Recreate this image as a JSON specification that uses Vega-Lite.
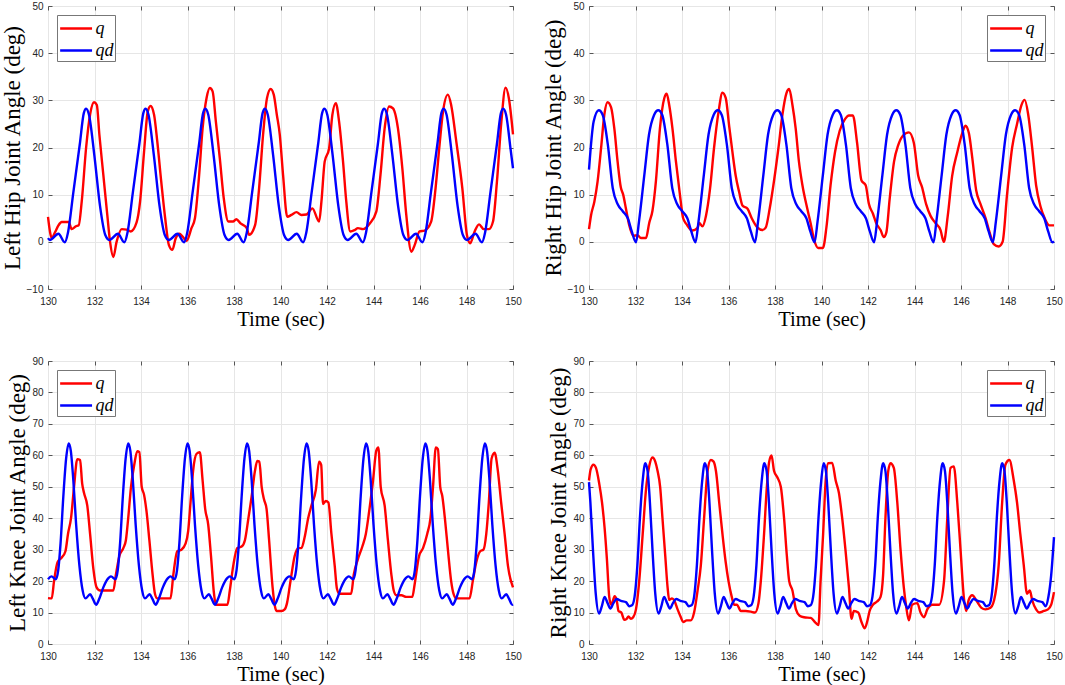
{
  "$schema": "https://vega.github.io/schema/vega-lite/v6.json",
  "padding": {"left": 0, "right": 9, "top": 0, "bottom": 0},
  "background": "white",
  "config": {
    "font": "Liberation Sans",
    "view": {"stroke": "#666666", "strokeWidth": 1},
    "line": {"strokeWidth": 2.4, "interpolate": "monotone"},
    "axis": {
      "grid": true, "gridColor": "#e6e6e6", "gridWidth": 1, "labelFlush": false,
      "domain": false, "tickColor": "#555555", "tickSize": -4,
      "labelFont": "Liberation Sans", "labelFontSize": 10, "labelColor": "#262626",
      "titleFont": "Liberation Serif", "titleFontWeight": "normal", "titleColor": "#000000"
    },
    "axisX": {"labelPadding": 11, "titlePadding": 3, "titleFontSize": 20.5},
    "axisY": {"labelPadding": 9, "titlePadding": 2, "titleFontSize": 23},
    "legend": {
      "title": null, "symbolType": "M-1.45,0H1.45", "symbolSize": 484, "symbolStrokeWidth": 2.5,
      "symbolOffset": 5.6, "labelOffset": 7,
      "labelFont": "Liberation Serif", "labelFontStyle": "italic", "labelFontSize": 18,
      "strokeColor": "#777777", "fillColor": "white", "padding": 1, "rowPadding": 0,
      "offset": 9
    }
  },
  "bounds": "flush",
  "columns": 2,
  "spacing": {"row": 72, "column": 76},
  "resolve": {"scale": {"color": "independent"}},
  "datasets": {
    "lh": [
      {"s":"q","t":130,"v":5.3},{"s":"q","t":130.09,"v":2},{"s":"q","t":130.16,"v":0.8},{"s":"q","t":130.3,"v":2},{"s":"q","t":130.45,"v":3.5},{"s":"q","t":130.59,"v":4.2},{"s":"q","t":130.89,"v":4.2},{"s":"q","t":131.02,"v":2.7},{"s":"q","t":131.2,"v":3.3},{"s":"q","t":131.32,"v":3.5},{"s":"q","t":131.45,"v":8.5},{"s":"q","t":131.64,"v":20},{"s":"q","t":131.81,"v":27},{"s":"q","t":131.98,"v":29.6},{"s":"q","t":132.1,"v":29},{"s":"q","t":132.21,"v":22.7},{"s":"q","t":132.38,"v":14.2},{"s":"q","t":132.55,"v":5.7},{"s":"q","t":132.67,"v":0},{"s":"q","t":132.81,"v":-3.2},{"s":"q","t":132.95,"v":0},{"s":"q","t":133.17,"v":2.7},{"s":"q","t":133.38,"v":2.6},{"s":"q","t":133.56,"v":2.2},{"s":"q","t":133.81,"v":4.1},{"s":"q","t":133.96,"v":8.5},{"s":"q","t":134.13,"v":19},{"s":"q","t":134.29,"v":27.6},{"s":"q","t":134.41,"v":28.8},{"s":"q","t":134.56,"v":27},{"s":"q","t":134.7,"v":21.3},{"s":"q","t":134.87,"v":12.8},{"s":"q","t":135.04,"v":5},{"s":"q","t":135.2,"v":-0.7},{"s":"q","t":135.35,"v":-1.7},{"s":"q","t":135.49,"v":0.7},{"s":"q","t":135.65,"v":1.7},{"s":"q","t":135.79,"v":1.1},{"s":"q","t":135.96,"v":0.2},{"s":"q","t":136.17,"v":2.9},{"s":"q","t":136.32,"v":5},{"s":"q","t":136.49,"v":13.5},{"s":"q","t":136.65,"v":24.1},{"s":"q","t":136.82,"v":30.5},{"s":"q","t":136.96,"v":32.6},{"s":"q","t":137.08,"v":31.9},{"s":"q","t":137.22,"v":25.5},{"s":"q","t":137.39,"v":17.7},{"s":"q","t":137.56,"v":9.2},{"s":"q","t":137.76,"v":4.3},{"s":"q","t":137.96,"v":4.3},{"s":"q","t":138.1,"v":4.8},{"s":"q","t":138.28,"v":3.9},{"s":"q","t":138.54,"v":3},{"s":"q","t":138.65,"v":1.5},{"s":"q","t":138.91,"v":3.6},{"s":"q","t":139.08,"v":11.4},{"s":"q","t":139.25,"v":22.7},{"s":"q","t":139.42,"v":30.5},{"s":"q","t":139.58,"v":32.4},{"s":"q","t":139.71,"v":31.2},{"s":"q","t":139.84,"v":27},{"s":"q","t":139.97,"v":22.7},{"s":"q","t":140.11,"v":14.2},{"s":"q","t":140.29,"v":5.3},{"s":"q","t":140.47,"v":5.7},{"s":"q","t":140.69,"v":6.3},{"s":"q","t":140.9,"v":5.7},{"s":"q","t":141.12,"v":5.8},{"s":"q","t":141.37,"v":7.1},{"s":"q","t":141.66,"v":4.3},{"s":"q","t":141.76,"v":8.5},{"s":"q","t":141.9,"v":17},{"s":"q","t":142.09,"v":19.8},{"s":"q","t":142.23,"v":26.9},{"s":"q","t":142.38,"v":29.4},{"s":"q","t":142.52,"v":25.5},{"s":"q","t":142.69,"v":17},{"s":"q","t":142.83,"v":8.5},{"s":"q","t":143,"v":2.2},{"s":"q","t":143.19,"v":2.5},{"s":"q","t":143.33,"v":2.9},{"s":"q","t":143.55,"v":2.7},{"s":"q","t":143.84,"v":3.9},{"s":"q","t":144.12,"v":6.4},{"s":"q","t":144.3,"v":14.2},{"s":"q","t":144.48,"v":24.1},{"s":"q","t":144.67,"v":28.7},{"s":"q","t":144.84,"v":28.3},{"s":"q","t":145.05,"v":24.1},{"s":"q","t":145.24,"v":15.6},{"s":"q","t":145.41,"v":5.7},{"s":"q","t":145.63,"v":-2.1},{"s":"q","t":145.77,"v":-0.7},{"s":"q","t":145.98,"v":2.2},{"s":"q","t":146.2,"v":2.4},{"s":"q","t":146.48,"v":4.3},{"s":"q","t":146.67,"v":11.4},{"s":"q","t":146.84,"v":20.5},{"s":"q","t":146.99,"v":27.6},{"s":"q","t":147.2,"v":31.2},{"s":"q","t":147.34,"v":29},{"s":"q","t":147.56,"v":21.3},{"s":"q","t":147.82,"v":11.4},{"s":"q","t":148.02,"v":1.4},{"s":"q","t":148.16,"v":-0.3},{"s":"q","t":148.35,"v":2.2},{"s":"q","t":148.54,"v":3.7},{"s":"q","t":148.74,"v":2.7},{"s":"q","t":148.97,"v":2.7},{"s":"q","t":149.14,"v":4.3},{"s":"q","t":149.31,"v":12.8},{"s":"q","t":149.5,"v":25.5},{"s":"q","t":149.68,"v":32.7},{"s":"q","t":149.82,"v":30.5},{"s":"q","t":150,"v":22.8},
      {"s":"qd","t":130,"v":0.8},{"s":"qd","t":130.08,"v":0.4},{"s":"qd","t":130.45,"v":1.7},{"s":"qd","t":130.72,"v":-0.1},{"s":"qd","t":130.86,"v":2},{"s":"qd","t":131.09,"v":10.5},{"s":"qd","t":131.37,"v":20.8},{"s":"qd","t":131.54,"v":27.3},{"s":"qd","t":131.64,"v":28.2},{"s":"qd","t":131.76,"v":27},{"s":"qd","t":131.99,"v":18.5},{"s":"qd","t":132.24,"v":7.5},{"s":"qd","t":132.46,"v":1.5},{"s":"qd","t":132.64,"v":0.4},{"s":"qd","t":133.01,"v":1.7},
      {"s":"qd","t":133.28,"v":-0.1},{"s":"qd","t":133.42,"v":2},{"s":"qd","t":133.65,"v":10.5},{"s":"qd","t":133.93,"v":20.8},{"s":"qd","t":134.1,"v":27.3},{"s":"qd","t":134.2,"v":28.2},{"s":"qd","t":134.32,"v":27},{"s":"qd","t":134.55,"v":18.5},{"s":"qd","t":134.8,"v":7.5},{"s":"qd","t":135.02,"v":1.5},{"s":"qd","t":135.2,"v":0.4},{"s":"qd","t":135.57,"v":1.7},
      {"s":"qd","t":135.85,"v":-0.1},{"s":"qd","t":135.99,"v":2},{"s":"qd","t":136.22,"v":10.5},{"s":"qd","t":136.5,"v":20.8},{"s":"qd","t":136.67,"v":27.3},{"s":"qd","t":136.77,"v":28.2},{"s":"qd","t":136.89,"v":27},{"s":"qd","t":137.12,"v":18.5},{"s":"qd","t":137.37,"v":7.5},{"s":"qd","t":137.59,"v":1.5},{"s":"qd","t":137.77,"v":0.4},{"s":"qd","t":138.14,"v":1.7},
      {"s":"qd","t":138.41,"v":-0.1},{"s":"qd","t":138.55,"v":2},{"s":"qd","t":138.78,"v":10.5},{"s":"qd","t":139.06,"v":20.8},{"s":"qd","t":139.23,"v":27.3},{"s":"qd","t":139.33,"v":28.2},{"s":"qd","t":139.45,"v":27},{"s":"qd","t":139.68,"v":18.5},{"s":"qd","t":139.93,"v":7.5},{"s":"qd","t":140.15,"v":1.5},{"s":"qd","t":140.33,"v":0.4},{"s":"qd","t":140.7,"v":1.7},
      {"s":"qd","t":140.97,"v":-0.1},{"s":"qd","t":141.11,"v":2},{"s":"qd","t":141.34,"v":10.5},{"s":"qd","t":141.62,"v":20.8},{"s":"qd","t":141.79,"v":27.3},{"s":"qd","t":141.89,"v":28.2},{"s":"qd","t":142.01,"v":27},{"s":"qd","t":142.24,"v":18.5},{"s":"qd","t":142.49,"v":7.5},{"s":"qd","t":142.71,"v":1.5},{"s":"qd","t":142.89,"v":0.4},{"s":"qd","t":143.26,"v":1.7},
      {"s":"qd","t":143.54,"v":-0.1},{"s":"qd","t":143.68,"v":2},{"s":"qd","t":143.91,"v":10.5},{"s":"qd","t":144.19,"v":20.8},{"s":"qd","t":144.36,"v":27.3},{"s":"qd","t":144.46,"v":28.2},{"s":"qd","t":144.58,"v":27},{"s":"qd","t":144.81,"v":18.5},{"s":"qd","t":145.06,"v":7.5},{"s":"qd","t":145.28,"v":1.5},{"s":"qd","t":145.46,"v":0.4},{"s":"qd","t":145.83,"v":1.7},
      {"s":"qd","t":146.1,"v":-0.1},{"s":"qd","t":146.24,"v":2},{"s":"qd","t":146.47,"v":10.5},{"s":"qd","t":146.75,"v":20.8},{"s":"qd","t":146.92,"v":27.3},{"s":"qd","t":147.02,"v":28.2},{"s":"qd","t":147.14,"v":27},{"s":"qd","t":147.37,"v":18.5},{"s":"qd","t":147.62,"v":7.5},{"s":"qd","t":147.84,"v":1.5},{"s":"qd","t":148.02,"v":0.4},{"s":"qd","t":148.39,"v":1.7},
      {"s":"qd","t":148.66,"v":-0.1},{"s":"qd","t":148.8,"v":2},{"s":"qd","t":149.03,"v":10.5},{"s":"qd","t":149.31,"v":20.8},{"s":"qd","t":149.48,"v":27.3},{"s":"qd","t":149.58,"v":28.2},{"s":"qd","t":149.7,"v":27},{"s":"qd","t":149.9,"v":19.5},{"s":"qd","t":150,"v":15.6}
    ],
    "rh": [
      {"s":"q","t":130,"v":2.7},{"s":"q","t":130.09,"v":5.7},{"s":"q","t":130.23,"v":8.5},{"s":"q","t":130.37,"v":12.8},{"s":"q","t":130.52,"v":19.9},{"s":"q","t":130.66,"v":27},{"s":"q","t":130.8,"v":29.6},{"s":"q","t":130.95,"v":28.5},{"s":"q","t":131.09,"v":24},{"s":"q","t":131.23,"v":17},{"s":"q","t":131.37,"v":11.5},{"s":"q","t":131.47,"v":10},{"s":"q","t":131.59,"v":7},{"s":"q","t":131.73,"v":3.5},{"s":"q","t":131.9,"v":1.3},{"s":"q","t":132.09,"v":1.4},{"s":"q","t":132.23,"v":0.8},{"s":"q","t":132.45,"v":0.8},{"s":"q","t":132.59,"v":4},{"s":"q","t":132.73,"v":6.6},{"s":"q","t":132.88,"v":13},{"s":"q","t":133.05,"v":24},{"s":"q","t":133.24,"v":30.5},{"s":"q","t":133.34,"v":31.4},{"s":"q","t":133.45,"v":29},{"s":"q","t":133.59,"v":24},{"s":"q","t":133.74,"v":17},{"s":"q","t":133.91,"v":10},{"s":"q","t":134.05,"v":5},{"s":"q","t":134.2,"v":3.7},{"s":"q","t":134.45,"v":2.4},{"s":"q","t":134.67,"v":3},{"s":"q","t":134.74,"v":4},{"s":"q","t":134.88,"v":3.3},{"s":"q","t":135.03,"v":5.5},{"s":"q","t":135.2,"v":11},{"s":"q","t":135.38,"v":20},{"s":"q","t":135.57,"v":27.5},{"s":"q","t":135.74,"v":31.6},{"s":"q","t":135.88,"v":30.5},{"s":"q","t":136.03,"v":24.5},{"s":"q","t":136.17,"v":19},{"s":"q","t":136.31,"v":14},{"s":"q","t":136.46,"v":10.5},{"s":"q","t":136.6,"v":7.7},{"s":"q","t":136.82,"v":7},{"s":"q","t":137,"v":5},{"s":"q","t":137.25,"v":3},{"s":"q","t":137.46,"v":2.5},{"s":"q","t":137.6,"v":3},{"s":"q","t":137.77,"v":7},{"s":"q","t":137.96,"v":13},{"s":"q","t":138.15,"v":20},{"s":"q","t":138.32,"v":27},{"s":"q","t":138.49,"v":31.5},{"s":"q","t":138.61,"v":32.4},{"s":"q","t":138.75,"v":29},{"s":"q","t":138.89,"v":24},{"s":"q","t":139.03,"v":17},{"s":"q","t":139.18,"v":12},{"s":"q","t":139.39,"v":7},{"s":"q","t":139.53,"v":4},{"s":"q","t":139.68,"v":0.5},{"s":"q","t":139.86,"v":-1.3},{"s":"q","t":140.06,"v":-1.3},{"s":"q","t":140.21,"v":3},{"s":"q","t":140.39,"v":12},{"s":"q","t":140.58,"v":19},{"s":"q","t":140.78,"v":23.5},{"s":"q","t":141.01,"v":26},{"s":"q","t":141.18,"v":26.8},{"s":"q","t":141.35,"v":26.8},{"s":"q","t":141.53,"v":21},{"s":"q","t":141.72,"v":13},{"s":"q","t":141.9,"v":12},{"s":"q","t":142.04,"v":8},{"s":"q","t":142.21,"v":6},{"s":"q","t":142.35,"v":4},{"s":"q","t":142.54,"v":2.5},{"s":"q","t":142.68,"v":1},{"s":"q","t":142.79,"v":2},{"s":"q","t":142.93,"v":9},{"s":"q","t":143.12,"v":17},{"s":"q","t":143.3,"v":20.5},{"s":"q","t":143.5,"v":22.5},{"s":"q","t":143.76,"v":23.2},{"s":"q","t":143.97,"v":21},{"s":"q","t":144.16,"v":14},{"s":"q","t":144.33,"v":11.5},{"s":"q","t":144.5,"v":8},{"s":"q","t":144.69,"v":5.5},{"s":"q","t":144.9,"v":4},{"s":"q","t":145.12,"v":2.5},{"s":"q","t":145.26,"v":0},{"s":"q","t":145.43,"v":5.5},{"s":"q","t":145.62,"v":14},{"s":"q","t":145.84,"v":19},{"s":"q","t":146.05,"v":23},{"s":"q","t":146.19,"v":24.6},{"s":"q","t":146.34,"v":23},{"s":"q","t":146.48,"v":18},{"s":"q","t":146.65,"v":11},{"s":"q","t":146.84,"v":8},{"s":"q","t":147.06,"v":5},{"s":"q","t":147.23,"v":2},{"s":"q","t":147.41,"v":-0.5},{"s":"q","t":147.62,"v":-1},{"s":"q","t":147.79,"v":0},{"s":"q","t":147.98,"v":10},{"s":"q","t":148.2,"v":20},{"s":"q","t":148.41,"v":25},{"s":"q","t":148.6,"v":29},{"s":"q","t":148.74,"v":30.1},{"s":"q","t":148.89,"v":27},{"s":"q","t":149.06,"v":20},{"s":"q","t":149.23,"v":12},{"s":"q","t":149.42,"v":7.5},{"s":"q","t":149.6,"v":5},{"s":"q","t":149.8,"v":3.5},{"s":"q","t":150,"v":3.5},
      {"s":"qd","t":130,"v":15.3},{"s":"qd","t":130.2,"v":25.5},{"s":"qd","t":130.42,"v":27.9},{"s":"qd","t":130.59,"v":26.9},{"s":"qd","t":130.81,"v":20.6},{"s":"qd","t":131.02,"v":11.4},{"s":"qd","t":131.24,"v":7.9},{"s":"qd","t":131.45,"v":6.5},{"s":"qd","t":131.67,"v":5},{"s":"qd","t":131.84,"v":2.2},{"s":"qd","t":132.02,"v":-0.1},
      {"s":"qd","t":132.15,"v":4.3},{"s":"qd","t":132.38,"v":14.2},{"s":"qd","t":132.58,"v":22.7},{"s":"qd","t":132.8,"v":26.9},{"s":"qd","t":132.98,"v":27.9},{"s":"qd","t":133.15,"v":26.9},{"s":"qd","t":133.37,"v":20.6},{"s":"qd","t":133.58,"v":11.4},{"s":"qd","t":133.8,"v":7.9},{"s":"qd","t":134.01,"v":6.5},{"s":"qd","t":134.23,"v":5},{"s":"qd","t":134.4,"v":2.2},{"s":"qd","t":134.58,"v":-0.1},
      {"s":"qd","t":134.71,"v":4.3},{"s":"qd","t":134.94,"v":14.2},{"s":"qd","t":135.14,"v":22.7},{"s":"qd","t":135.36,"v":26.9},{"s":"qd","t":135.54,"v":27.9},{"s":"qd","t":135.71,"v":26.9},{"s":"qd","t":135.93,"v":20.6},{"s":"qd","t":136.14,"v":11.4},{"s":"qd","t":136.36,"v":7.9},{"s":"qd","t":136.57,"v":6.5},{"s":"qd","t":136.79,"v":5},{"s":"qd","t":136.96,"v":2.2},{"s":"qd","t":137.14,"v":-0.1},
      {"s":"qd","t":137.27,"v":4.3},{"s":"qd","t":137.5,"v":14.2},{"s":"qd","t":137.7,"v":22.7},{"s":"qd","t":137.92,"v":26.9},{"s":"qd","t":138.1,"v":27.9},{"s":"qd","t":138.27,"v":26.9},{"s":"qd","t":138.49,"v":20.6},{"s":"qd","t":138.7,"v":11.4},{"s":"qd","t":138.92,"v":7.9},{"s":"qd","t":139.13,"v":6.5},{"s":"qd","t":139.35,"v":5},{"s":"qd","t":139.52,"v":2.2},{"s":"qd","t":139.7,"v":-0.1},
      {"s":"qd","t":139.83,"v":4.3},{"s":"qd","t":140.06,"v":14.2},{"s":"qd","t":140.26,"v":22.7},{"s":"qd","t":140.48,"v":26.9},{"s":"qd","t":140.66,"v":27.9},{"s":"qd","t":140.83,"v":26.9},{"s":"qd","t":141.05,"v":20.6},{"s":"qd","t":141.26,"v":11.4},{"s":"qd","t":141.48,"v":7.9},{"s":"qd","t":141.69,"v":6.5},{"s":"qd","t":141.91,"v":5},{"s":"qd","t":142.08,"v":2.2},{"s":"qd","t":142.26,"v":-0.1},
      {"s":"qd","t":142.39,"v":4.3},{"s":"qd","t":142.62,"v":14.2},{"s":"qd","t":142.82,"v":22.7},{"s":"qd","t":143.04,"v":26.9},{"s":"qd","t":143.22,"v":27.9},{"s":"qd","t":143.39,"v":26.9},{"s":"qd","t":143.61,"v":20.6},{"s":"qd","t":143.82,"v":11.4},{"s":"qd","t":144.04,"v":7.9},{"s":"qd","t":144.25,"v":6.5},{"s":"qd","t":144.47,"v":5},{"s":"qd","t":144.64,"v":2.2},{"s":"qd","t":144.82,"v":-0.1},
      {"s":"qd","t":144.94,"v":4.3},{"s":"qd","t":145.17,"v":14.2},{"s":"qd","t":145.37,"v":22.7},{"s":"qd","t":145.59,"v":26.9},{"s":"qd","t":145.77,"v":27.9},{"s":"qd","t":145.94,"v":26.9},{"s":"qd","t":146.16,"v":20.6},{"s":"qd","t":146.37,"v":11.4},{"s":"qd","t":146.59,"v":7.9},{"s":"qd","t":146.8,"v":6.5},{"s":"qd","t":147.02,"v":5},{"s":"qd","t":147.19,"v":2.2},{"s":"qd","t":147.37,"v":-0.1},
      {"s":"qd","t":147.5,"v":4.3},{"s":"qd","t":147.73,"v":14.2},{"s":"qd","t":147.93,"v":22.7},{"s":"qd","t":148.15,"v":26.9},{"s":"qd","t":148.33,"v":27.9},{"s":"qd","t":148.5,"v":26.9},{"s":"qd","t":148.72,"v":20.6},{"s":"qd","t":148.93,"v":11.4},{"s":"qd","t":149.15,"v":7.9},{"s":"qd","t":149.36,"v":6.5},{"s":"qd","t":149.58,"v":5},{"s":"qd","t":149.75,"v":2.2},{"s":"qd","t":149.93,"v":-0.1},{"s":"qd","t":150,"v":0.1}
    ],
    "lk": [
      {"s":"q","t":130,"v":14.6},{"s":"q","t":130.16,"v":14.5},{"s":"q","t":130.26,"v":20},{"s":"q","t":130.41,"v":26},{"s":"q","t":130.59,"v":27.5},{"s":"q","t":130.75,"v":29.5},{"s":"q","t":130.86,"v":35},{"s":"q","t":130.99,"v":40},{"s":"q","t":131.12,"v":50},{"s":"q","t":131.26,"v":58.8},{"s":"q","t":131.38,"v":58.5},{"s":"q","t":131.47,"v":51},{"s":"q","t":131.55,"v":48},{"s":"q","t":131.69,"v":44},{"s":"q","t":131.81,"v":35},{"s":"q","t":131.95,"v":24},{"s":"q","t":132.09,"v":18},{"s":"q","t":132.24,"v":17},{"s":"q","t":132.81,"v":17},{"s":"q","t":132.92,"v":22},{"s":"q","t":133.07,"v":28},{"s":"q","t":133.24,"v":30.5},{"s":"q","t":133.35,"v":33},{"s":"q","t":133.45,"v":40},{"s":"q","t":133.57,"v":50},{"s":"q","t":133.71,"v":57},{"s":"q","t":133.84,"v":61.3},{"s":"q","t":133.93,"v":61},{"s":"q","t":134.03,"v":50},{"s":"q","t":134.13,"v":47.5},{"s":"q","t":134.24,"v":42},{"s":"q","t":134.36,"v":33},{"s":"q","t":134.5,"v":22},{"s":"q","t":134.6,"v":16},{"s":"q","t":134.7,"v":14.5},{"s":"q","t":135.27,"v":14.5},{"s":"q","t":135.39,"v":22},{"s":"q","t":135.56,"v":29.5},{"s":"q","t":135.74,"v":30},{"s":"q","t":135.92,"v":32},{"s":"q","t":136.03,"v":36},{"s":"q","t":136.13,"v":45},{"s":"q","t":136.24,"v":55},{"s":"q","t":136.39,"v":60.5},{"s":"q","t":136.53,"v":61},{"s":"q","t":136.65,"v":52},{"s":"q","t":136.76,"v":43},{"s":"q","t":136.89,"v":38},{"s":"q","t":137.01,"v":28},{"s":"q","t":137.14,"v":16},{"s":"q","t":137.22,"v":12.5},{"s":"q","t":137.72,"v":12.5},{"s":"q","t":137.82,"v":17},{"s":"q","t":137.97,"v":25},{"s":"q","t":138.14,"v":30.5},{"s":"q","t":138.33,"v":31},{"s":"q","t":138.47,"v":33},{"s":"q","t":138.62,"v":40},{"s":"q","t":138.76,"v":47},{"s":"q","t":138.9,"v":55},{"s":"q","t":139,"v":58.2},{"s":"q","t":139.09,"v":58},{"s":"q","t":139.19,"v":50},{"s":"q","t":139.29,"v":46},{"s":"q","t":139.4,"v":43},{"s":"q","t":139.51,"v":33},{"s":"q","t":139.66,"v":18},{"s":"q","t":139.76,"v":12},{"s":"q","t":139.83,"v":10.5},{"s":"q","t":140.04,"v":10.5},{"s":"q","t":140.18,"v":11},{"s":"q","t":140.28,"v":13},{"s":"q","t":140.43,"v":20},{"s":"q","t":140.61,"v":28},{"s":"q","t":140.76,"v":30.5},{"s":"q","t":140.9,"v":30.5},{"s":"q","t":141.04,"v":34},{"s":"q","t":141.19,"v":40},{"s":"q","t":141.33,"v":44},{"s":"q","t":141.52,"v":49},{"s":"q","t":141.66,"v":58},{"s":"q","t":141.75,"v":57},{"s":"q","t":141.83,"v":44.5},{"s":"q","t":141.95,"v":45.5},{"s":"q","t":142.06,"v":45},{"s":"q","t":142.19,"v":35},{"s":"q","t":142.33,"v":25},{"s":"q","t":142.43,"v":17.5},{"s":"q","t":142.54,"v":16},{"s":"q","t":143.04,"v":16},{"s":"q","t":143.15,"v":22},{"s":"q","t":143.33,"v":27},{"s":"q","t":143.52,"v":31},{"s":"q","t":143.67,"v":35},{"s":"q","t":143.81,"v":42},{"s":"q","t":143.98,"v":52},{"s":"q","t":144.12,"v":61.5},{"s":"q","t":144.21,"v":62.5},{"s":"q","t":144.31,"v":50},{"s":"q","t":144.48,"v":44},{"s":"q","t":144.62,"v":33},{"s":"q","t":144.77,"v":22},{"s":"q","t":144.87,"v":17},{"s":"q","t":144.98,"v":15.5},{"s":"q","t":145.2,"v":15.5},{"s":"q","t":145.41,"v":15},{"s":"q","t":145.67,"v":15},{"s":"q","t":145.77,"v":19},{"s":"q","t":145.96,"v":28},{"s":"q","t":146.13,"v":30.5},{"s":"q","t":146.31,"v":35},{"s":"q","t":146.45,"v":40},{"s":"q","t":146.56,"v":50},{"s":"q","t":146.68,"v":62.5},{"s":"q","t":146.77,"v":62},{"s":"q","t":146.87,"v":50},{"s":"q","t":146.96,"v":47},{"s":"q","t":147.07,"v":40},{"s":"q","t":147.2,"v":30},{"s":"q","t":147.34,"v":20},{"s":"q","t":147.44,"v":16},{"s":"q","t":147.56,"v":14.5},{"s":"q","t":148.13,"v":14.5},{"s":"q","t":148.27,"v":20},{"s":"q","t":148.42,"v":26},{"s":"q","t":148.59,"v":29.5},{"s":"q","t":148.73,"v":30},{"s":"q","t":148.85,"v":35},{"s":"q","t":148.96,"v":45},{"s":"q","t":149.08,"v":59},{"s":"q","t":149.21,"v":60.8},{"s":"q","t":149.35,"v":55},{"s":"q","t":149.49,"v":45},{"s":"q","t":149.64,"v":35},{"s":"q","t":149.78,"v":25},{"s":"q","t":150,"v":18},
      {"s":"qd","t":130,"v":20.6},{"s":"qd","t":130.15,"v":21.5},
      {"s":"qd","t":130.34,"v":20.6},{"s":"qd","t":130.44,"v":23.5},{"s":"qd","t":130.54,"v":32},{"s":"qd","t":130.66,"v":47},{"s":"qd","t":130.78,"v":59},{"s":"qd","t":130.89,"v":63.8},{"s":"qd","t":130.98,"v":61.5},{"s":"qd","t":131.09,"v":52},{"s":"qd","t":131.21,"v":38},{"s":"qd","t":131.35,"v":25},{"s":"qd","t":131.49,"v":17},{"s":"qd","t":131.61,"v":14.5},{"s":"qd","t":131.81,"v":15.8},{"s":"qd","t":131.92,"v":14.5},{"s":"qd","t":132.07,"v":12.5},{"s":"qd","t":132.21,"v":14.5},{"s":"qd","t":132.38,"v":18},{"s":"qd","t":132.55,"v":20.5},{"s":"qd","t":132.71,"v":21.5},
      {"s":"qd","t":132.9,"v":20.6},{"s":"qd","t":133,"v":23.5},{"s":"qd","t":133.1,"v":32},{"s":"qd","t":133.22,"v":47},{"s":"qd","t":133.34,"v":59},{"s":"qd","t":133.45,"v":63.8},{"s":"qd","t":133.54,"v":61.5},{"s":"qd","t":133.65,"v":52},{"s":"qd","t":133.77,"v":38},{"s":"qd","t":133.91,"v":25},{"s":"qd","t":134.05,"v":17},{"s":"qd","t":134.17,"v":14.5},{"s":"qd","t":134.37,"v":15.8},{"s":"qd","t":134.48,"v":14.5},{"s":"qd","t":134.63,"v":12.5},{"s":"qd","t":134.77,"v":14.5},{"s":"qd","t":134.94,"v":18},{"s":"qd","t":135.11,"v":20.5},{"s":"qd","t":135.27,"v":21.5},
      {"s":"qd","t":135.45,"v":20.6},{"s":"qd","t":135.55,"v":23.5},{"s":"qd","t":135.65,"v":32},{"s":"qd","t":135.77,"v":47},{"s":"qd","t":135.89,"v":59},{"s":"qd","t":136,"v":63.8},{"s":"qd","t":136.09,"v":61.5},{"s":"qd","t":136.2,"v":52},{"s":"qd","t":136.32,"v":38},{"s":"qd","t":136.46,"v":25},{"s":"qd","t":136.6,"v":17},{"s":"qd","t":136.72,"v":14.5},{"s":"qd","t":136.92,"v":15.8},{"s":"qd","t":137.03,"v":14.5},{"s":"qd","t":137.18,"v":12.5},{"s":"qd","t":137.32,"v":14.5},{"s":"qd","t":137.49,"v":18},{"s":"qd","t":137.66,"v":20.5},{"s":"qd","t":137.82,"v":21.5},
      {"s":"qd","t":138.01,"v":20.6},{"s":"qd","t":138.11,"v":23.5},{"s":"qd","t":138.21,"v":32},{"s":"qd","t":138.33,"v":47},{"s":"qd","t":138.45,"v":59},{"s":"qd","t":138.56,"v":63.8},{"s":"qd","t":138.65,"v":61.5},{"s":"qd","t":138.76,"v":52},{"s":"qd","t":138.88,"v":38},{"s":"qd","t":139.02,"v":25},{"s":"qd","t":139.16,"v":17},{"s":"qd","t":139.28,"v":14.5},{"s":"qd","t":139.48,"v":15.8},{"s":"qd","t":139.59,"v":14.5},{"s":"qd","t":139.74,"v":12.5},{"s":"qd","t":139.88,"v":14.5},{"s":"qd","t":140.05,"v":18},{"s":"qd","t":140.22,"v":20.5},{"s":"qd","t":140.38,"v":21.5},
      {"s":"qd","t":140.57,"v":20.6},{"s":"qd","t":140.67,"v":23.5},{"s":"qd","t":140.77,"v":32},{"s":"qd","t":140.89,"v":47},{"s":"qd","t":141.01,"v":59},{"s":"qd","t":141.12,"v":63.8},{"s":"qd","t":141.21,"v":61.5},{"s":"qd","t":141.32,"v":52},{"s":"qd","t":141.44,"v":38},{"s":"qd","t":141.58,"v":25},{"s":"qd","t":141.72,"v":17},{"s":"qd","t":141.84,"v":14.5},{"s":"qd","t":142.04,"v":15.8},{"s":"qd","t":142.15,"v":14.5},{"s":"qd","t":142.3,"v":12.5},{"s":"qd","t":142.44,"v":14.5},{"s":"qd","t":142.61,"v":18},{"s":"qd","t":142.78,"v":20.5},{"s":"qd","t":142.94,"v":21.5},
      {"s":"qd","t":143.13,"v":20.6},{"s":"qd","t":143.23,"v":23.5},{"s":"qd","t":143.33,"v":32},{"s":"qd","t":143.45,"v":47},{"s":"qd","t":143.57,"v":59},{"s":"qd","t":143.68,"v":63.8},{"s":"qd","t":143.77,"v":61.5},{"s":"qd","t":143.88,"v":52},{"s":"qd","t":144,"v":38},{"s":"qd","t":144.14,"v":25},{"s":"qd","t":144.28,"v":17},{"s":"qd","t":144.4,"v":14.5},{"s":"qd","t":144.6,"v":15.8},{"s":"qd","t":144.71,"v":14.5},{"s":"qd","t":144.86,"v":12.5},{"s":"qd","t":145,"v":14.5},{"s":"qd","t":145.17,"v":18},{"s":"qd","t":145.34,"v":20.5},{"s":"qd","t":145.5,"v":21.5},
      {"s":"qd","t":145.68,"v":20.6},{"s":"qd","t":145.78,"v":23.5},{"s":"qd","t":145.88,"v":32},{"s":"qd","t":146,"v":47},{"s":"qd","t":146.12,"v":59},{"s":"qd","t":146.23,"v":63.8},{"s":"qd","t":146.32,"v":61.5},{"s":"qd","t":146.43,"v":52},{"s":"qd","t":146.55,"v":38},{"s":"qd","t":146.69,"v":25},{"s":"qd","t":146.83,"v":17},{"s":"qd","t":146.95,"v":14.5},{"s":"qd","t":147.15,"v":15.8},{"s":"qd","t":147.26,"v":14.5},{"s":"qd","t":147.41,"v":12.5},{"s":"qd","t":147.55,"v":14.5},{"s":"qd","t":147.72,"v":18},{"s":"qd","t":147.89,"v":20.5},{"s":"qd","t":148.05,"v":21.5},
      {"s":"qd","t":148.24,"v":20.6},{"s":"qd","t":148.34,"v":23.5},{"s":"qd","t":148.44,"v":32},{"s":"qd","t":148.56,"v":47},{"s":"qd","t":148.68,"v":59},{"s":"qd","t":148.79,"v":63.8},{"s":"qd","t":148.88,"v":61.5},{"s":"qd","t":148.99,"v":52},{"s":"qd","t":149.11,"v":38},{"s":"qd","t":149.25,"v":25},{"s":"qd","t":149.39,"v":17},{"s":"qd","t":149.51,"v":14.5},{"s":"qd","t":149.71,"v":15.8},{"s":"qd","t":149.82,"v":14.5},{"s":"qd","t":149.97,"v":12.5},{"s":"qd","t":150,"v":12.6}
    ],
    "rk": [
      {"s":"q","t":130,"v":52},{"s":"q","t":130.07,"v":55.5},{"s":"q","t":130.19,"v":57},{"s":"q","t":130.3,"v":56},{"s":"q","t":130.44,"v":51},{"s":"q","t":130.56,"v":45},{"s":"q","t":130.67,"v":37},{"s":"q","t":130.77,"v":27},{"s":"q","t":130.87,"v":15},{"s":"q","t":130.95,"v":12.5},{"s":"q","t":131.02,"v":13.5},{"s":"q","t":131.1,"v":15.2},{"s":"q","t":131.19,"v":14},{"s":"q","t":131.27,"v":10.5},{"s":"q","t":131.39,"v":10},{"s":"q","t":131.52,"v":7.7},{"s":"q","t":131.62,"v":8},{"s":"q","t":131.7,"v":8.8},{"s":"q","t":131.8,"v":8},{"s":"q","t":131.9,"v":8.5},{"s":"q","t":132.02,"v":11},{"s":"q","t":132.16,"v":20},{"s":"q","t":132.31,"v":35},{"s":"q","t":132.45,"v":49},{"s":"q","t":132.59,"v":56.5},{"s":"q","t":132.73,"v":59.3},{"s":"q","t":132.85,"v":58},{"s":"q","t":132.95,"v":55},{"s":"q","t":133.06,"v":50},{"s":"q","t":133.16,"v":40},{"s":"q","t":133.28,"v":28},{"s":"q","t":133.38,"v":18},{"s":"q","t":133.45,"v":14},{"s":"q","t":133.57,"v":14.5},{"s":"q","t":133.67,"v":13.8},{"s":"q","t":133.81,"v":11},{"s":"q","t":133.95,"v":8.5},{"s":"q","t":134.05,"v":7},{"s":"q","t":134.2,"v":7.5},{"s":"q","t":134.38,"v":7.5},{"s":"q","t":134.52,"v":10},{"s":"q","t":134.67,"v":17},{"s":"q","t":134.81,"v":25},{"s":"q","t":134.95,"v":40},{"s":"q","t":135.1,"v":55},{"s":"q","t":135.24,"v":58.5},{"s":"q","t":135.36,"v":58},{"s":"q","t":135.46,"v":55},{"s":"q","t":135.6,"v":45},{"s":"q","t":135.74,"v":35},{"s":"q","t":135.88,"v":26},{"s":"q","t":136,"v":20},{"s":"q","t":136.14,"v":15},{"s":"q","t":136.24,"v":12.5},{"s":"q","t":136.36,"v":12.5},{"s":"q","t":136.53,"v":10.5},{"s":"q","t":136.74,"v":10.5},{"s":"q","t":136.96,"v":10.3},{"s":"q","t":137.14,"v":10},{"s":"q","t":137.29,"v":13},{"s":"q","t":137.39,"v":20},{"s":"q","t":137.53,"v":35},{"s":"q","t":137.65,"v":50},{"s":"q","t":137.75,"v":58},{"s":"q","t":137.85,"v":60},{"s":"q","t":137.96,"v":55},{"s":"q","t":138.1,"v":53},{"s":"q","t":138.25,"v":50},{"s":"q","t":138.39,"v":40},{"s":"q","t":138.51,"v":28},{"s":"q","t":138.61,"v":20},{"s":"q","t":138.75,"v":17},{"s":"q","t":138.9,"v":11},{"s":"q","t":139.06,"v":9},{"s":"q","t":139.25,"v":8.5},{"s":"q","t":139.54,"v":8.3},{"s":"q","t":139.75,"v":6.7},{"s":"q","t":139.87,"v":6},{"s":"q","t":139.96,"v":20},{"s":"q","t":140.07,"v":35},{"s":"q","t":140.18,"v":52},{"s":"q","t":140.29,"v":57.5},{"s":"q","t":140.46,"v":57.6},{"s":"q","t":140.61,"v":52},{"s":"q","t":140.75,"v":48},{"s":"q","t":140.89,"v":40},{"s":"q","t":141.03,"v":30},{"s":"q","t":141.18,"v":18},{"s":"q","t":141.29,"v":8},{"s":"q","t":141.39,"v":10.5},{"s":"q","t":141.58,"v":10},{"s":"q","t":141.72,"v":7},{"s":"q","t":141.86,"v":5},{"s":"q","t":141.96,"v":7},{"s":"q","t":142.07,"v":10.5},{"s":"q","t":142.21,"v":12.5},{"s":"q","t":142.39,"v":13.5},{"s":"q","t":142.54,"v":15},{"s":"q","t":142.65,"v":22},{"s":"q","t":142.75,"v":40},{"s":"q","t":142.87,"v":55},{"s":"q","t":142.97,"v":57.5},{"s":"q","t":143.11,"v":56},{"s":"q","t":143.26,"v":45},{"s":"q","t":143.4,"v":30},{"s":"q","t":143.54,"v":18},{"s":"q","t":143.64,"v":12},{"s":"q","t":143.76,"v":7.5},{"s":"q","t":143.9,"v":12.5},{"s":"q","t":144.12,"v":13},{"s":"q","t":144.26,"v":10},{"s":"q","t":144.41,"v":8.5},{"s":"q","t":144.55,"v":11},{"s":"q","t":144.77,"v":12.5},{"s":"q","t":145.06,"v":12.5},{"s":"q","t":145.27,"v":20},{"s":"q","t":145.41,"v":40},{"s":"q","t":145.55,"v":56},{"s":"q","t":145.69,"v":56.5},{"s":"q","t":145.84,"v":45},{"s":"q","t":145.98,"v":30},{"s":"q","t":146.12,"v":15},{"s":"q","t":146.22,"v":10.5},{"s":"q","t":146.33,"v":14},{"s":"q","t":146.48,"v":15.5},{"s":"q","t":146.69,"v":13.5},{"s":"q","t":146.88,"v":11.5},{"s":"q","t":147.05,"v":11},{"s":"q","t":147.27,"v":11.5},{"s":"q","t":147.48,"v":16},{"s":"q","t":147.62,"v":25},{"s":"q","t":147.77,"v":45},{"s":"q","t":147.91,"v":57},{"s":"q","t":148.08,"v":58.5},{"s":"q","t":148.27,"v":52},{"s":"q","t":148.41,"v":45},{"s":"q","t":148.55,"v":35},{"s":"q","t":148.7,"v":25},{"s":"q","t":148.84,"v":16},{"s":"q","t":148.96,"v":17},{"s":"q","t":149.06,"v":14},{"s":"q","t":149.23,"v":11},{"s":"q","t":149.37,"v":10},{"s":"q","t":149.56,"v":10.5},{"s":"q","t":149.74,"v":11},{"s":"q","t":149.88,"v":12.5},{"s":"q","t":150,"v":16.5},
      {"s":"qd","t":130,"v":51.5},{"s":"qd","t":130.06,"v":45},{"s":"qd","t":130.17,"v":30},{"s":"qd","t":130.29,"v":16},{"s":"qd","t":130.43,"v":9.7},{"s":"qd","t":130.55,"v":12},{"s":"qd","t":130.67,"v":15},{"s":"qd","t":130.8,"v":13},{"s":"qd","t":130.92,"v":11.3},{"s":"qd","t":131.05,"v":13},{"s":"qd","t":131.19,"v":14.3},{"s":"qd","t":131.37,"v":13.7},{"s":"qd","t":131.59,"v":13.3},{"s":"qd","t":131.73,"v":12},{"s":"qd","t":131.85,"v":12.3},{"s":"qd","t":131.96,"v":15},{"s":"qd","t":132.08,"v":25},{"s":"qd","t":132.19,"v":40},{"s":"qd","t":132.31,"v":52},
      {"s":"qd","t":132.42,"v":57.5},{"s":"qd","t":132.52,"v":55},{"s":"qd","t":132.62,"v":45},{"s":"qd","t":132.73,"v":30},{"s":"qd","t":132.85,"v":16},{"s":"qd","t":132.99,"v":9.7},{"s":"qd","t":133.11,"v":12},{"s":"qd","t":133.23,"v":15},{"s":"qd","t":133.36,"v":13},{"s":"qd","t":133.48,"v":11.3},{"s":"qd","t":133.61,"v":13},{"s":"qd","t":133.75,"v":14.3},{"s":"qd","t":133.93,"v":13.7},{"s":"qd","t":134.15,"v":13.3},{"s":"qd","t":134.29,"v":12},{"s":"qd","t":134.41,"v":12.3},{"s":"qd","t":134.52,"v":15},{"s":"qd","t":134.64,"v":25},{"s":"qd","t":134.75,"v":40},{"s":"qd","t":134.87,"v":52},
      {"s":"qd","t":134.98,"v":57.5},{"s":"qd","t":135.08,"v":55},{"s":"qd","t":135.18,"v":45},{"s":"qd","t":135.29,"v":30},{"s":"qd","t":135.41,"v":16},{"s":"qd","t":135.55,"v":9.7},{"s":"qd","t":135.67,"v":12},{"s":"qd","t":135.79,"v":15},{"s":"qd","t":135.92,"v":13},{"s":"qd","t":136.04,"v":11.3},{"s":"qd","t":136.17,"v":13},{"s":"qd","t":136.31,"v":14.3},{"s":"qd","t":136.49,"v":13.7},{"s":"qd","t":136.71,"v":13.3},{"s":"qd","t":136.85,"v":12},{"s":"qd","t":136.97,"v":12.3},{"s":"qd","t":137.08,"v":15},{"s":"qd","t":137.2,"v":25},{"s":"qd","t":137.31,"v":40},{"s":"qd","t":137.43,"v":52},
      {"s":"qd","t":137.54,"v":57.5},{"s":"qd","t":137.64,"v":55},{"s":"qd","t":137.74,"v":45},{"s":"qd","t":137.85,"v":30},{"s":"qd","t":137.97,"v":16},{"s":"qd","t":138.11,"v":9.7},{"s":"qd","t":138.23,"v":12},{"s":"qd","t":138.35,"v":15},{"s":"qd","t":138.48,"v":13},{"s":"qd","t":138.6,"v":11.3},{"s":"qd","t":138.73,"v":13},{"s":"qd","t":138.87,"v":14.3},{"s":"qd","t":139.05,"v":13.7},{"s":"qd","t":139.27,"v":13.3},{"s":"qd","t":139.41,"v":12},{"s":"qd","t":139.53,"v":12.3},{"s":"qd","t":139.64,"v":15},{"s":"qd","t":139.76,"v":25},{"s":"qd","t":139.87,"v":40},{"s":"qd","t":139.99,"v":52},
      {"s":"qd","t":140.09,"v":57.5},{"s":"qd","t":140.19,"v":55},{"s":"qd","t":140.29,"v":45},{"s":"qd","t":140.4,"v":30},{"s":"qd","t":140.52,"v":16},{"s":"qd","t":140.66,"v":9.7},{"s":"qd","t":140.78,"v":12},{"s":"qd","t":140.9,"v":15},{"s":"qd","t":141.03,"v":13},{"s":"qd","t":141.15,"v":11.3},{"s":"qd","t":141.28,"v":13},{"s":"qd","t":141.42,"v":14.3},{"s":"qd","t":141.6,"v":13.7},{"s":"qd","t":141.82,"v":13.3},{"s":"qd","t":141.96,"v":12},{"s":"qd","t":142.08,"v":12.3},{"s":"qd","t":142.19,"v":15},{"s":"qd","t":142.31,"v":25},{"s":"qd","t":142.42,"v":40},{"s":"qd","t":142.54,"v":52},
      {"s":"qd","t":142.65,"v":57.5},{"s":"qd","t":142.75,"v":55},{"s":"qd","t":142.85,"v":45},{"s":"qd","t":142.96,"v":30},{"s":"qd","t":143.08,"v":16},{"s":"qd","t":143.22,"v":9.7},{"s":"qd","t":143.34,"v":12},{"s":"qd","t":143.46,"v":15},{"s":"qd","t":143.59,"v":13},{"s":"qd","t":143.71,"v":11.3},{"s":"qd","t":143.84,"v":13},{"s":"qd","t":143.98,"v":14.3},{"s":"qd","t":144.16,"v":13.7},{"s":"qd","t":144.38,"v":13.3},{"s":"qd","t":144.52,"v":12},{"s":"qd","t":144.64,"v":12.3},{"s":"qd","t":144.75,"v":15},{"s":"qd","t":144.87,"v":25},{"s":"qd","t":144.98,"v":40},{"s":"qd","t":145.1,"v":52},
      {"s":"qd","t":145.21,"v":57.5},{"s":"qd","t":145.31,"v":55},{"s":"qd","t":145.41,"v":45},{"s":"qd","t":145.52,"v":30},{"s":"qd","t":145.64,"v":16},{"s":"qd","t":145.78,"v":9.7},{"s":"qd","t":145.9,"v":12},{"s":"qd","t":146.02,"v":15},{"s":"qd","t":146.15,"v":13},{"s":"qd","t":146.27,"v":11.3},{"s":"qd","t":146.4,"v":13},{"s":"qd","t":146.54,"v":14.3},{"s":"qd","t":146.72,"v":13.7},{"s":"qd","t":146.94,"v":13.3},{"s":"qd","t":147.08,"v":12},{"s":"qd","t":147.2,"v":12.3},{"s":"qd","t":147.31,"v":15},{"s":"qd","t":147.43,"v":25},{"s":"qd","t":147.54,"v":40},{"s":"qd","t":147.66,"v":52},
      {"s":"qd","t":147.77,"v":57.5},{"s":"qd","t":147.87,"v":55},{"s":"qd","t":147.97,"v":45},{"s":"qd","t":148.08,"v":30},{"s":"qd","t":148.2,"v":16},{"s":"qd","t":148.34,"v":9.7},{"s":"qd","t":148.46,"v":12},{"s":"qd","t":148.58,"v":15},{"s":"qd","t":148.71,"v":13},{"s":"qd","t":148.83,"v":11.3},{"s":"qd","t":148.96,"v":13},{"s":"qd","t":149.1,"v":14.3},{"s":"qd","t":149.28,"v":13.7},{"s":"qd","t":149.5,"v":13.3},{"s":"qd","t":149.64,"v":12},{"s":"qd","t":149.76,"v":15},{"s":"qd","t":149.88,"v":22},{"s":"qd","t":150,"v":34}
    ]
  },
  "concat": [
    {
      "width": 465, "height": 283,
      "data": {"name": "lh"},
      "layer": [
        {
          "mark": {"type": "line"},
          "encoding": {
            "x": {"field": "t", "type": "quantitative", "scale": {"domain": [130, 150], "nice": false}, "axis": {"values": [130,132,134,136,138,140,142,144,146,148,150], "title": "Time (sec)"}},
            "y": {"field": "v", "type": "quantitative", "scale": {"domain": [-10, 50], "nice": false, "zero": false}, "axis": {"values": [-10,0,10,20,30,40,50], "title": "Left Hip Joint Angle (deg)"}},
            "color": {"field": "s", "type": "nominal", "scale": {"domain": ["q", "qd"], "range": ["#ff0000", "#0000ff"]}, "legend": {"orient": "top-left"}}
          }
        },
        {
          "mark": {"type": "line", "opacity": 0},
          "encoding": {
            "x": {"field": "t", "type": "quantitative", "scale": {"domain": [130, 150], "nice": false}, "axis": {"orient": "top", "labels": false, "grid": false, "title": null, "values": [130,132,134,136,138,140,142,144,146,148,150]}},
            "y": {"field": "v", "type": "quantitative", "scale": {"domain": [-10, 50], "nice": false, "zero": false}, "axis": {"orient": "right", "labels": false, "grid": false, "title": null, "values": [-10,0,10,20,30,40,50]}},
            "detail": {"field": "s"}
          }
        }
      ],
      "resolve": {"axis": {"x": "independent", "y": "independent"}}
    },
    {
      "width": 465, "height": 283,
      "data": {"name": "rh"},
      "layer": [
        {
          "mark": {"type": "line"},
          "encoding": {
            "x": {"field": "t", "type": "quantitative", "scale": {"domain": [130, 150], "nice": false}, "axis": {"values": [130,132,134,136,138,140,142,144,146,148,150], "title": "Time (sec)"}},
            "y": {"field": "v", "type": "quantitative", "scale": {"domain": [-10, 50], "nice": false, "zero": false}, "axis": {"values": [-10,0,10,20,30,40,50], "title": "Right Hip Joint Angle (deg)"}},
            "color": {"field": "s", "type": "nominal", "scale": {"domain": ["q", "qd"], "range": ["#ff0000", "#0000ff"]}, "legend": {"orient": "top-right"}}
          }
        },
        {
          "mark": {"type": "line", "opacity": 0},
          "encoding": {
            "x": {"field": "t", "type": "quantitative", "scale": {"domain": [130, 150], "nice": false}, "axis": {"orient": "top", "labels": false, "grid": false, "title": null, "values": [130,132,134,136,138,140,142,144,146,148,150]}},
            "y": {"field": "v", "type": "quantitative", "scale": {"domain": [-10, 50], "nice": false, "zero": false}, "axis": {"orient": "right", "labels": false, "grid": false, "title": null, "values": [-10,0,10,20,30,40,50]}},
            "detail": {"field": "s"}
          }
        }
      ],
      "resolve": {"axis": {"x": "independent", "y": "independent"}}
    },
    {
      "width": 465, "height": 283,
      "data": {"name": "lk"},
      "layer": [
        {
          "mark": {"type": "line"},
          "encoding": {
            "x": {"field": "t", "type": "quantitative", "scale": {"domain": [130, 150], "nice": false}, "axis": {"values": [130,132,134,136,138,140,142,144,146,148,150], "title": "Time (sec)"}},
            "y": {"field": "v", "type": "quantitative", "scale": {"domain": [0, 90], "nice": false}, "axis": {"values": [0,10,20,30,40,50,60,70,80,90], "title": "Left Knee Joint Angle (deg)"}},
            "color": {"field": "s", "type": "nominal", "scale": {"domain": ["q", "qd"], "range": ["#ff0000", "#0000ff"]}, "legend": {"orient": "top-left"}}
          }
        },
        {
          "mark": {"type": "line", "opacity": 0},
          "encoding": {
            "x": {"field": "t", "type": "quantitative", "scale": {"domain": [130, 150], "nice": false}, "axis": {"orient": "top", "labels": false, "grid": false, "title": null, "values": [130,132,134,136,138,140,142,144,146,148,150]}},
            "y": {"field": "v", "type": "quantitative", "scale": {"domain": [0, 90], "nice": false}, "axis": {"orient": "right", "labels": false, "grid": false, "title": null, "values": [0,10,20,30,40,50,60,70,80,90]}},
            "detail": {"field": "s"}
          }
        }
      ],
      "resolve": {"axis": {"x": "independent", "y": "independent"}}
    },
    {
      "width": 465, "height": 283,
      "data": {"name": "rk"},
      "layer": [
        {
          "mark": {"type": "line"},
          "encoding": {
            "x": {"field": "t", "type": "quantitative", "scale": {"domain": [130, 150], "nice": false}, "axis": {"values": [130,132,134,136,138,140,142,144,146,148,150], "title": "Time (sec)"}},
            "y": {"field": "v", "type": "quantitative", "scale": {"domain": [0, 90], "nice": false}, "axis": {"values": [0,10,20,30,40,50,60,70,80,90], "title": "Right Knee Joint Angle (deg)"}},
            "color": {"field": "s", "type": "nominal", "scale": {"domain": ["q", "qd"], "range": ["#ff0000", "#0000ff"]}, "legend": {"orient": "top-right"}}
          }
        },
        {
          "mark": {"type": "line", "opacity": 0},
          "encoding": {
            "x": {"field": "t", "type": "quantitative", "scale": {"domain": [130, 150], "nice": false}, "axis": {"orient": "top", "labels": false, "grid": false, "title": null, "values": [130,132,134,136,138,140,142,144,146,148,150]}},
            "y": {"field": "v", "type": "quantitative", "scale": {"domain": [0, 90], "nice": false}, "axis": {"orient": "right", "labels": false, "grid": false, "title": null, "values": [0,10,20,30,40,50,60,70,80,90]}},
            "detail": {"field": "s"}
          }
        }
      ],
      "resolve": {"axis": {"x": "independent", "y": "independent"}}
    }
  ]
}
